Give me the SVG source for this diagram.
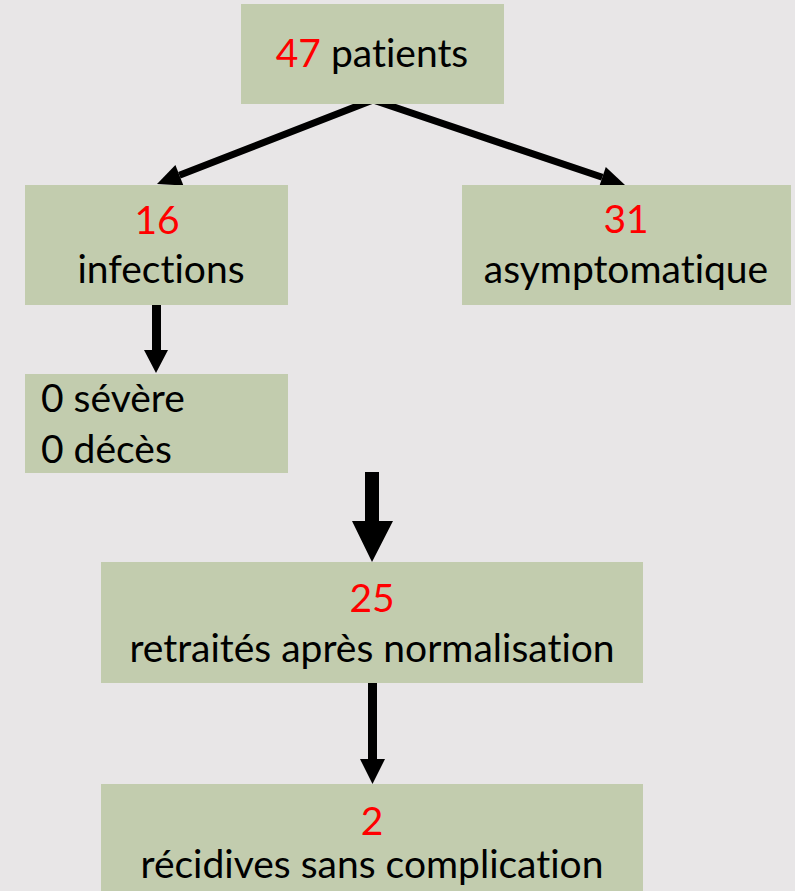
<svg xmlns="http://www.w3.org/2000/svg" width="795" height="891" viewBox="0 0 795 891">
<style>
.box{fill:#C2CCAE;}
.t{font-family:Lato,"Liberation Sans",sans-serif;font-size:39px;fill:#000;font-variant-ligatures:none;}
.c{text-anchor:middle;}
.r{fill:#FF0000;}
.ln{fill:none;stroke:#000;stroke-width:7;stroke-linejoin:miter;}
.ah{fill:#000;}
</style>
<rect x="0" y="0" width="795" height="891" fill="#E8E6E7"/>
<g id="connectors">
<path class="ln" d="M179.4,175.3 L373,100 L602.3,177.3"/>
<polygon class="ah" points="157,184 183.4,185.6 175.4,165"/>
<polygon class="ah" points="625,185 598.8,187.7 605.8,166.9"/>
<polygon class="ah" points="152,305 161,305 161,350 168,350 156,373 144,350 152,350"/>
<polygon class="ah" points="365,472 379,472 379,521 393,521 372,562 352,521 365,521"/>
<polygon class="ah" points="368,683 377,683 377,759 385,759 372.5,784 360,759 368,759"/>
</g>
<g id="n-patients">
<rect class="box" x="241" y="4" width="263" height="100"/>
<text class="t c" x="372" y="67"><tspan class="r">47</tspan> patients</text>
</g>
<g id="n-infections">
<rect class="box" x="25" y="185" width="263" height="120"/>
<text class="t c r" x="157" y="234">16</text>
<text class="t c" x="161" y="283">infections</text>
</g>
<g id="n-asymptomatique">
<rect class="box" x="462" y="185" width="329" height="120"/>
<text class="t c r" x="626" y="233">31</text>
<text class="t c" x="626" y="283">asymptomatique</text>
</g>
<g id="n-severe">
<rect class="box" x="25" y="374" width="263" height="99"/>
<text class="t" x="41" y="412">0 sévère</text>
<text class="t" x="41" y="463">0 décès</text>
</g>
<g id="n-retraites">
<rect class="box" x="101" y="562" width="542" height="121"/>
<text class="t c r" x="372" y="612">25</text>
<text class="t c" x="372" y="662">retraités après normalisation</text>
</g>
<g id="n-recidives">
<rect class="box" x="101" y="784" width="542" height="107"/>
<text class="t c r" x="372" y="835">2</text>
<text class="t c" x="372" y="878">récidives sans complication</text>
</g>
</svg>
